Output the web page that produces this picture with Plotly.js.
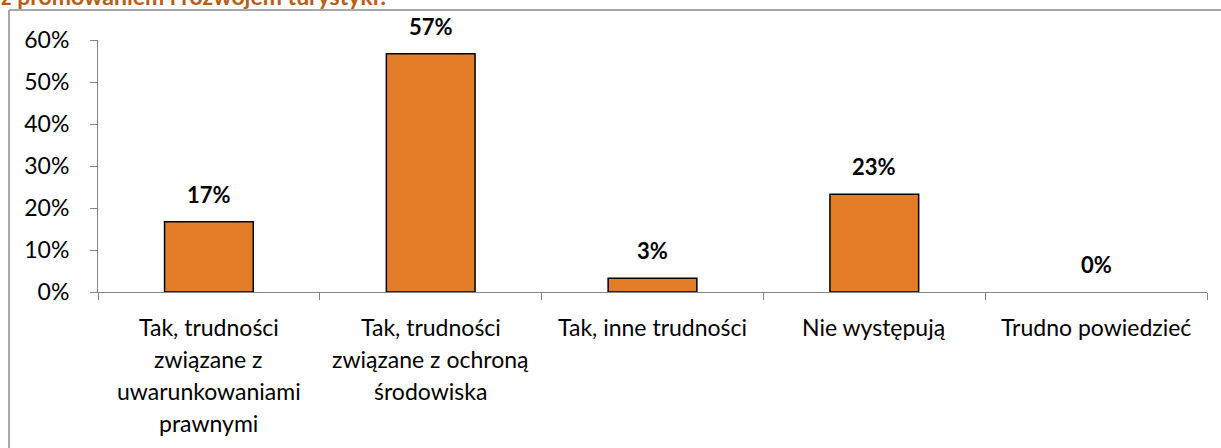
<!DOCTYPE html>
<html>
<head>
<meta charset="utf-8">
<script src="https://cdn.plot.ly/plotly-3.0.1.min.js"></script>
<style>html,body{margin:0;padding:0;background:#fff;}#chart{width:1221px;height:448px;}</style>
</head>
<body>
<div id="chart"></div>
<script>
// ---- data ----
const categories = ["c1", "c2", "c3", "c4", "c5"];
const categoryLabels = [
  ["Tak, trudności", "związane z", "uwarunkowaniami", "prawnymi"],
  ["Tak, trudności", "związane z ochroną", "środowiska"],
  ["Tak, inne trudności"],
  ["Nie występują"],
  ["Trudno powiedzieć"]
];
const values = [0.167, 0.567, 0.033, 0.233, 0.0];
const valueLabels = ["17%", "57%", "3%", "23%", "0%"];
const yTickValues = [0, 0.1, 0.2, 0.3, 0.4, 0.5, 0.6];
const titleText = "z promowaniem i rozwojem turystyki?";

// ---- layout constants ----
const W = 1221, H = 448;
const M = {l: 98, r: 14, t: 40, b: 156};
const PW = W - M.l - M.r, PH = H - M.t - M.b;
const FONT = "Lato, 'Open Sans', sans-serif";
const px2x = px => (px - M.l) / PW;
const py2y = py => 1 - (py - M.t) / PH;

const annotations = [];
categories.forEach((c, i) => {
  annotations.push({
    x: c, y: values[i], xref: 'x', yref: 'y', text: valueLabels[i],
    showarrow: false, yanchor: 'bottom', yshift: 12,
    font: {family: FONT, size: 22, color: '#000', weight: 'bold'}
  });
  categoryLabels[i].forEach((line, j) => {
    annotations.push({
      x: c, y: 0, xref: 'x', yref: 'y', text: line,
      showarrow: false, yanchor: 'middle', yshift: -(35 + 32 * j),
      font: {family: FONT, size: 23, color: '#000'}
    });
  });
});

// title text placed as a paper annotation so that only its lower part shows (as in the reference)
annotations.push({
  xref: 'paper', yref: 'paper', x: px2x(0), y: py2y(5), xanchor: 'left', yanchor: 'bottom',
  text: titleText, showarrow: false, borderpad: 0, yshift: -6,
  font: {family: FONT, size: 23, color: '#B85D12', weight: 'bold'}
});

const shapes = [
  {type: 'line', xref: 'paper', yref: 'paper', x0: px2x(9), x1: px2x(9), y0: py2y(10), y1: py2y(460),
   line: {color: '#8c8c8c', width: 1.5}},
  {type: 'line', xref: 'paper', yref: 'paper', x0: px2x(9), x1: px2x(1240), y0: py2y(10), y1: py2y(10),
   line: {color: '#8c8c8c', width: 1.5}}
];

const trace = {
  type: 'bar', x: categories, y: values,
  marker: {color: '#E47D28', line: {color: '#000', width: values.map(v => v > 0 ? 1.5 : 0)}},
  hoverinfo: 'none'
};

const layout = {
  width: W, height: H,
  margin: M,
  paper_bgcolor: '#fff', plot_bgcolor: '#fff',
  showlegend: false,
  bargap: 0.6,
  font: {family: FONT, size: 23, color: '#000'},
  xaxis: {
    type: 'category', showticklabels: false, tickson: 'boundaries',
    ticks: 'outside', ticklen: 7, tickcolor: '#868686', tickwidth: 1,
    showline: true, linecolor: '#868686', linewidth: 1, showgrid: false, zeroline: false,
    fixedrange: true
  },
  yaxis: {
    range: [0, 0.6], tickvals: yTickValues, tickformat: '.0%',
    ticks: 'outside', ticklen: 7, tickcolor: '#868686', tickwidth: 1,
    ticklabelstandoff: 16,
    showline: true, linecolor: '#868686', linewidth: 1, showgrid: false, zeroline: false,
    tickfont: {family: FONT, size: 23, color: '#000'}, fixedrange: true
  },
  annotations: annotations,
  shapes: shapes
};

Plotly.newPlot('chart', [trace], layout, {displayModeBar: false, staticPlot: true});
</script>
</body>
</html>
